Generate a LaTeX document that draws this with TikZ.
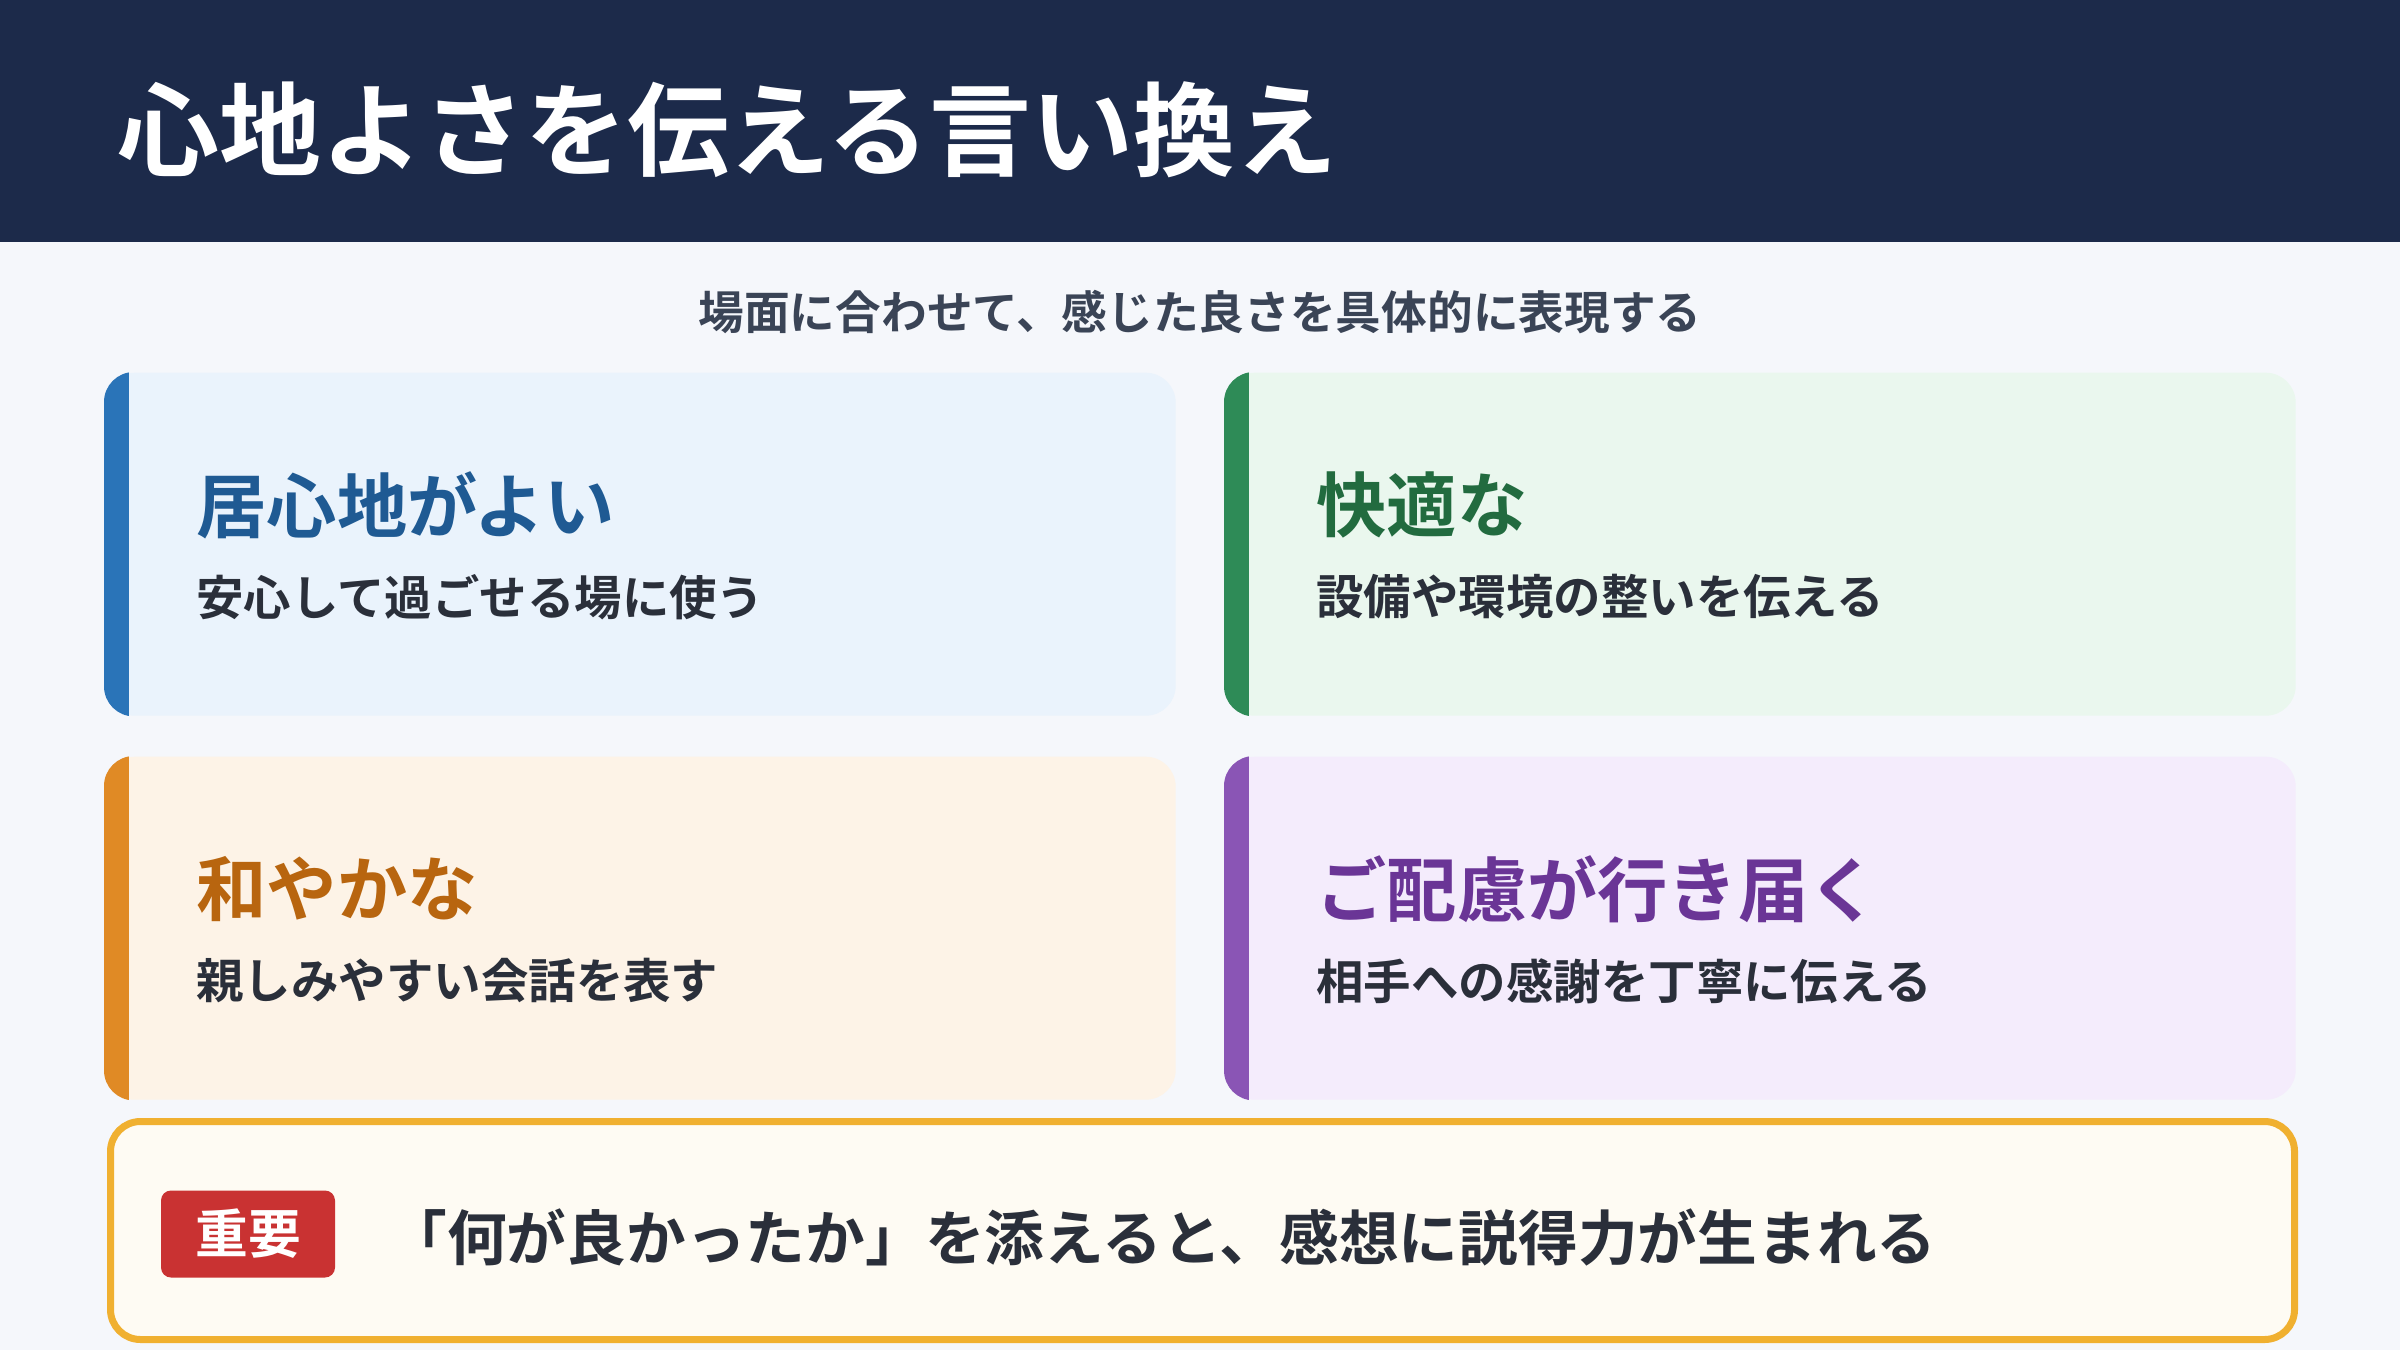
\documentclass[tikz,border=0pt]{standalone}
\usepackage{fontspec}
\setmainfont{Noto Sans CJK JP}[BoldFont={Noto Sans CJK JP Bold}]
\usetikzlibrary{positioning}
\definecolor{hdnavy}{HTML}{1C2A4A}
\definecolor{pagebg}{HTML}{F5F7FB}
\definecolor{inkdark}{HTML}{2A2F3A}
\definecolor{subgray}{HTML}{3A4456}
\definecolor{cblue}{HTML}{2A74B8}
\definecolor{cbluebg}{HTML}{EAF3FC}
\definecolor{cbluett}{HTML}{1F5A93}
\definecolor{cgreen}{HTML}{2E8B57}
\definecolor{cgreenbg}{HTML}{EAF7EE}
\definecolor{cgreentt}{HTML}{226B3F}
\definecolor{corange}{HTML}{E08A25}
\definecolor{corangebg}{HTML}{FDF3E7}
\definecolor{corangett}{HTML}{B8650F}
\definecolor{cpurple}{HTML}{8A55B5}
\definecolor{cpurplebg}{HTML}{F4ECFC}
\definecolor{cpurplett}{HTML}{6A3596}
\definecolor{notebg}{HTML}{FEFBF3}
\definecolor{noteline}{HTML}{F0B030}
\definecolor{badgered}{HTML}{C93232}
\begin{document}
\begin{tikzpicture}[
  card/.style={rectangle, rounded corners=0.3cm, minimum width=10.71cm, minimum height=3.43cm, anchor=north west, inner sep=0pt},
  cardtitle/.style={anchor=west, font=\fontsize{20}{24}\selectfont\bfseries},
  carddesc/.style={anchor=west, text=inkdark, font=\fontsize{13.5}{16}\selectfont\bfseries},
]
\useasboundingbox (0,0) rectangle (24,13.5);
\fill[pagebg] (0,0) rectangle (24,13.5);
% header
\fill[hdnavy] (0,11.08) rectangle (24,13.5);
\node[anchor=west, text=white, font=\fontsize{29}{34}\selectfont\bfseries] (title) at (1.05,12.2) {心地よさを伝える言い換え};
\node[text=subgray, font=\fontsize{13}{16}\selectfont\bfseries] (subtitle) at (12.0,10.38) {場面に合わせて、感じた良さを具体的に表現する};

% cards
\foreach \nm/\x/\y/\bar/\bg/\tt/\head/\desc in {
  ca/1.04/9.78/cblue/cbluebg/cbluett/居心地がよい/安心して過ごせる場に使う,
  cb/12.24/9.78/cgreen/cgreenbg/cgreentt/快適な/設備や環境の整いを伝える,
  cc/1.04/5.94/corange/corangebg/corangett/和やかな/親しみやすい会話を表す,
  cd/12.24/5.94/cpurple/cpurplebg/cpurplett/ご配慮が行き届く/相手への感謝を丁寧に伝える}{
  \node[card, fill=\bg] (\nm) at (\x,\y) {};
  \begin{scope}
    \clip[rounded corners=0.3cm] (\nm.north west) rectangle (\nm.south east);
    \fill[\bar] (\nm.north west) rectangle ([xshift=0.25cm]\nm.south west);
  \end{scope}
  \node[cardtitle, text=\tt] (\nm-head) at ([xshift=0.8cm, yshift=-1.33cm]\nm.north west) {\head};
  \node[carddesc] (\nm-desc) at ([xshift=0.8cm, yshift=-2.25cm]\nm.north west) {\desc};
}

% note
\node[rectangle, rounded corners=0.3cm, draw=noteline, line width=0.07cm, fill=notebg, minimum width=21.84cm, minimum height=2.18cm, anchor=south west] (note) at (1.07,0.07) {};
\node[rectangle, rounded corners=0.1cm, fill=badgered, text=white, minimum width=1.74cm, minimum height=0.87cm, font=\fontsize{15}{18}\selectfont\bfseries] (badge) at (2.48,1.16) {重要};
\node[anchor=west, text=inkdark, font=\fontsize{17}{20}\selectfont\bfseries] (notetext) at (3.75,1.13) {「何が良かったか」を添えると、感想に説得力が生まれる};
\end{tikzpicture}
\end{document}
